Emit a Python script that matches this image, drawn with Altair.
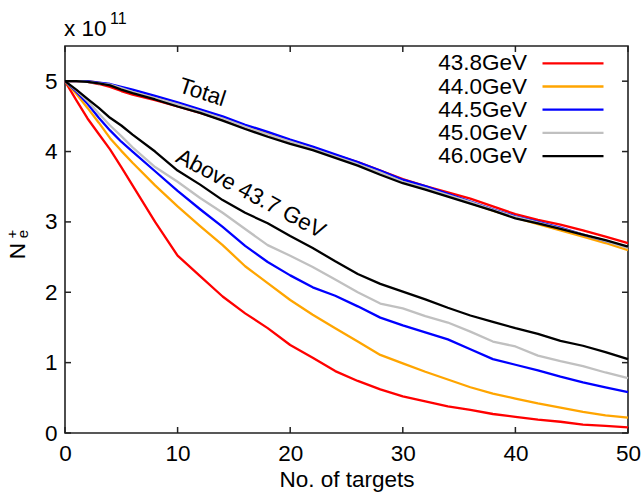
import altair as alt
import pandas as pd

# ---------------- data ----------------
targets = [0, 1, 2, 3, 4, 5, 6, 8, 10, 12, 14, 16, 18, 20, 22, 24, 26, 28, 30,
           32, 34, 36, 38, 40, 42, 44, 46, 48, 50]

series_names = ["43.8GeV", "44.0GeV", "44.5GeV", "45.0GeV", "46.0GeV"]
series_colors = ["#ff0000", "#ffa500", "#0000ff", "#c0c0c0", "#000000"]

# Total positrons (units of 1e11)
total_438 = [5.00, 5.00, 4.99, 4.96, 4.92, 4.86, 4.81, 4.73, 4.64, 4.55, 4.45, 4.34, 4.24, 4.14,
             4.05, 3.95, 3.85, 3.73, 3.61, 3.51, 3.42, 3.33, 3.22, 3.11, 3.03, 2.96, 2.88, 2.79, 2.70]
total_440 = [5.00, 5.00, 5.00, 4.98, 4.95, 4.90, 4.86, 4.77, 4.68, 4.58, 4.48, 4.36, 4.26, 4.15,
             4.05, 3.94, 3.83, 3.71, 3.58, 3.49, 3.38, 3.27, 3.16, 3.06, 2.97, 2.88, 2.79, 2.70, 2.60]
total_445 = [5.00, 5.00, 5.00, 4.98, 4.96, 4.92, 4.88, 4.79, 4.70, 4.60, 4.50, 4.38, 4.28, 4.17,
             4.07, 3.96, 3.85, 3.73, 3.60, 3.51, 3.40, 3.29, 3.18, 3.08, 3.00, 2.92, 2.82, 2.73, 2.64]
total_450 = [5.00, 5.00, 4.99, 4.97, 4.95, 4.90, 4.85, 4.76, 4.67, 4.57, 4.47, 4.35, 4.24, 4.14,
             4.04, 3.93, 3.82, 3.70, 3.57, 3.48, 3.38, 3.28, 3.17, 3.07, 2.99, 2.91, 2.82, 2.73, 2.63]
total_460 = [5.00, 5.00, 4.99, 4.97, 4.94, 4.88, 4.83, 4.74, 4.64, 4.55, 4.44, 4.32, 4.21, 4.11,
             4.02, 3.91, 3.80, 3.67, 3.55, 3.46, 3.36, 3.26, 3.16, 3.05, 2.98, 2.90, 2.82, 2.74, 2.65]

# Positrons above 43.7 GeV (units of 1e11)
above_438 = [5.00, 4.73, 4.47, 4.25, 4.03, 3.78, 3.52, 3.00, 2.52, 2.23, 1.94, 1.70, 1.49, 1.25,
             1.07, 0.88, 0.74, 0.62, 0.52, 0.45, 0.38, 0.33, 0.27, 0.23, 0.19, 0.16, 0.12, 0.10, 0.08]
above_440 = [5.00, 4.82, 4.62, 4.41, 4.19, 4.01, 3.84, 3.52, 3.22, 2.94, 2.67, 2.37, 2.13, 1.89,
             1.68, 1.49, 1.30, 1.11, 0.99, 0.87, 0.76, 0.65, 0.56, 0.49, 0.42, 0.36, 0.30, 0.25, 0.22]
above_445 = [5.00, 4.85, 4.68, 4.48, 4.30, 4.14, 4.00, 3.72, 3.44, 3.18, 2.93, 2.66, 2.43, 2.24,
             2.07, 1.95, 1.80, 1.64, 1.53, 1.43, 1.33, 1.19, 1.05, 0.97, 0.89, 0.80, 0.72, 0.65, 0.58]
above_450 = [5.00, 4.87, 4.72, 4.54, 4.37, 4.22, 4.06, 3.78, 3.57, 3.34, 3.13, 2.90, 2.67, 2.52,
             2.36, 2.18, 2.00, 1.84, 1.77, 1.66, 1.57, 1.44, 1.30, 1.23, 1.10, 1.02, 0.95, 0.86, 0.78]
above_460 = [5.00, 4.88, 4.75, 4.62, 4.48, 4.37, 4.24, 4.00, 3.73, 3.53, 3.31, 3.13, 2.98, 2.80,
             2.63, 2.44, 2.26, 2.12, 2.01, 1.90, 1.78, 1.67, 1.58, 1.49, 1.41, 1.31, 1.24, 1.15, 1.05]

totals = [total_438, total_440, total_445, total_450, total_460]
aboves = [above_438, above_440, above_445, above_450, above_460]

x_ticks = [0, 10, 20, 30, 40, 50]
y_ticks = [0, 1, 2, 3, 4, 5]

# ---------------- chart ----------------
FONT = "Liberation Sans"
FS = 22.5
W, H = 563, 387
XMAX, YMAX = 50, 5.5

xs = alt.Scale(domain=[0, XMAX], nice=False, zero=False)
ys = alt.Scale(domain=[0, YMAX], nice=False, zero=False)

layers = []

# base layer carrying the axes
axis_df = pd.DataFrame({"x": [0, XMAX], "y": [0, YMAX]})
base_axes = alt.Chart(axis_df).mark_point(opacity=0).encode(
    x=alt.X("x:Q", scale=xs,
            axis=alt.Axis(values=x_ticks, format="d", title="No. of targets", grid=False,
                          domain=False, ticks=False, tickSize=0, labelPadding=9,
                          labelFont=FONT, labelFontSize=FS, labelColor="black",
                          titleFont=FONT, titleFontSize=FS, titleFontWeight="normal",
                          titleColor="black", titlePadding=4, labelFlush=False)),
    y=alt.Y("y:Q", scale=ys,
            axis=alt.Axis(values=y_ticks, format="d", title=None, grid=False, domain=False,
                          ticks=False, tickSize=0, labelPadding=8, labelFont=FONT,
                          labelFontSize=FS, labelColor="black", labelFlush=False)),
)
layers.append(base_axes)

# inward ticks (gnuplot style) on all four sides
xt_len = 6 / W * XMAX
yt_len = 6 / H * YMAX
tick_rows = []
for v in x_ticks:
    tick_rows.append({"x": v, "x2": v, "y": 0, "y2": yt_len})
    tick_rows.append({"x": v, "x2": v, "y": YMAX, "y2": YMAX - yt_len})
for v in y_ticks:
    tick_rows.append({"x": 0, "x2": xt_len, "y": v, "y2": v})
    tick_rows.append({"x": XMAX, "x2": XMAX - xt_len, "y": v, "y2": v})
ticks = alt.Chart(pd.DataFrame(tick_rows)).mark_rule(color="#222222", strokeWidth=1.5).encode(
    x=alt.X("x:Q", scale=xs), x2="x2:Q", y=alt.Y("y:Q", scale=ys), y2="y2:Q")
layers.append(ticks)

# curves
for name, col, tot, abv in zip(series_names, series_colors, totals, aboves):
    rows = []
    for t, v in zip(targets, tot):
        rows.append({"x": t, "y": v, "kind": "Total"})
    for t, v in zip(targets, abv):
        rows.append({"x": t, "y": v, "kind": "Above"})
    df = pd.DataFrame(rows)
    layers.append(
        alt.Chart(df).mark_line(color=col, strokeWidth=2.3, strokeJoin="round").encode(
            x=alt.X("x:Q", scale=xs), y=alt.Y("y:Q", scale=ys), detail="kind:N")
    )

# in-plot annotations
ann_total = alt.Chart(pd.DataFrame({"x": [12.2], "y": [4.84], "t": ["Total"]})).mark_text(
    font=FONT, fontSize=FS, angle=18, align="center", baseline="middle", color="black"
).encode(x=alt.X("x:Q", scale=xs), y=alt.Y("y:Q", scale=ys), text="t:N")
ann_above = alt.Chart(pd.DataFrame({"x": [16.5], "y": [3.40], "t": ["Above 43.7 GeV"]})).mark_text(
    font=FONT, fontSize=FS, angle=28, align="center", baseline="middle", color="black"
).encode(x=alt.X("x:Q", scale=xs), y=alt.Y("y:Q", scale=ys), text="t:N")
layers += [ann_total, ann_above]

# legend (top right, labels left of line samples)
for i, (name, col) in enumerate(zip(series_names, series_colors)):
    yy = 17.3 + 23.2 * i
    layers.append(
        alt.Chart(pd.DataFrame({"t": [name]})).mark_text(
            font=FONT, fontSize=FS, align="right", baseline="middle", color="black"
        ).encode(x=alt.value(462), y=alt.value(yy), text="t:N")
    )
    layers.append(
        alt.Chart(pd.DataFrame({"t": [name]})).mark_rule(color=col, strokeWidth=2.3).encode(
            x=alt.value(477.5), x2=alt.value(538.5), y=alt.value(yy))
    )

# multiplier label  "x 10^11"
layers.append(alt.Chart(pd.DataFrame({"t": ["x 10"]})).mark_text(
    font=FONT, fontSize=FS, align="left", baseline="alphabetic", color="black"
).encode(x=alt.value(-1), y=alt.value(-10), text="t:N"))
layers.append(alt.Chart(pd.DataFrame({"t": ["11"]})).mark_text(
    font=FONT, fontSize=16, align="left", baseline="alphabetic", color="black"
).encode(x=alt.value(45), y=alt.value(-22), text="t:N"))

# y-axis title  N_e+ (rotated)
layers.append(alt.Chart(pd.DataFrame({"t": ["N"]})).mark_text(
    font=FONT, fontSize=FS, angle=270, align="center", baseline="middle", color="black"
).encode(x=alt.value(-47), y=alt.value(205), text="t:N"))
layers.append(alt.Chart(pd.DataFrame({"t": ["e"]})).mark_text(
    font=FONT, fontSize=15, angle=270, align="center", baseline="middle", color="black"
).encode(x=alt.value(-42), y=alt.value(188), text="t:N"))
layers.append(alt.Chart(pd.DataFrame({"t": ["+"]})).mark_text(
    font=FONT, fontSize=15, angle=270, align="center", baseline="middle", color="black"
).encode(x=alt.value(-53), y=alt.value(188), text="t:N"))

chart = alt.layer(*layers).properties(
    width=W, height=H,
    autosize=alt.AutoSizeParams(type="none"),
    padding={"left": 65, "top": 46, "right": 14, "bottom": 60},
    background="white",
).configure_view(stroke="#222222", strokeWidth=1.6)

chart.save("out.html", embed_options={"renderer": "svg", "actions": False})
